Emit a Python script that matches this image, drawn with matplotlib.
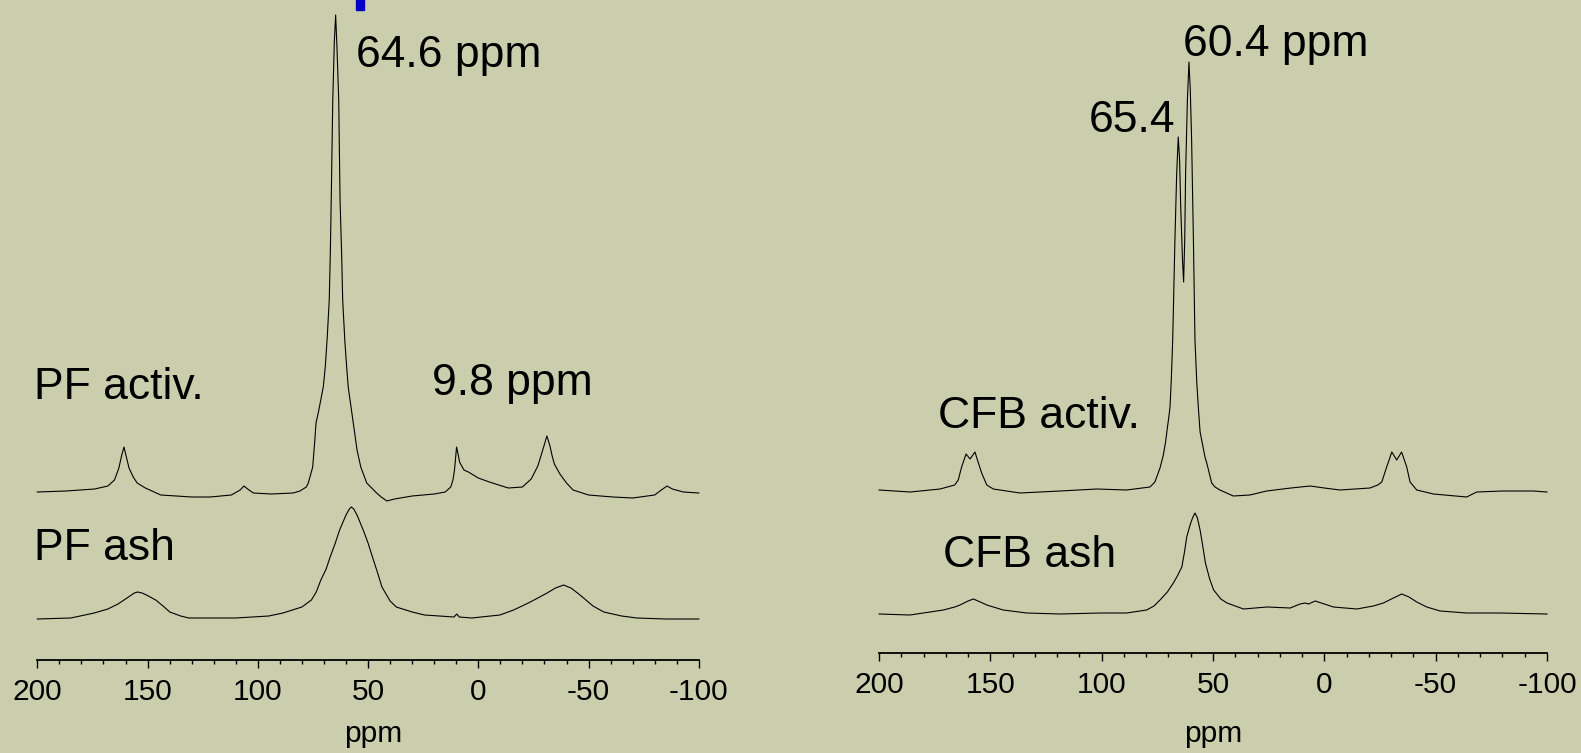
import matplotlib.pyplot as plt
from matplotlib.patches import Rectangle
from matplotlib.ticker import MultipleLocator

plt.rcParams['font.family'] = ['Liberation Sans', 'DejaVu Sans']
plt.rcParams['axes.unicode_minus'] = False

# spectra: chemical shift (ppm) and intensity above each trace's baseline (px)
pf_act_ppm = [200, 187, 174, 168, 165, 163, 161.8, 160.7, 159.5, 158.4, 156.5, 154.7, 151, 149, 144, 130,
              121.6, 112, 108, 106.3, 104, 102, 94, 84, 80.9, 78, 77.1, 75.1, 74.2, 73.6, 72.5, 70.3,
              69.4, 68.5, 67.6, 67.1, 66.7, 66.0, 65.3, 64.7, 64.1, 63.3, 62.7, 62.0, 61.5, 60.5, 59.7,
              59.0, 56.7, 55.0, 53.3, 50.6, 46.1, 44, 41.5, 38, 30, 20, 15, 12.5, 11.5, 10.8, 9.85, 9.0,
              8.5, 6.5, 4.5, 0, -5, -13.6, -20, -24, -27, -29.5, -31.1, -32.5, -33.5, -34.5, -37, -40,
              -43, -50, -61, -70, -80, -83, -85.6, -88, -93, -100]
pf_act_int = [0, 1, 3, 6, 12, 24, 36, 45, 34, 24, 15, 9, 4, 2, -3, -5,
              -5, -3, 2, 6, 2, -1, -2, -1, 1, 5, 9, 25, 50, 69, 80, 105,
              125, 155, 192, 240, 292, 392, 450, 477, 445, 392, 292, 240, 192, 150, 125,
              105, 69, 42, 25, 9, -1, -5, -9, -7, -4, -2, 0, 5, 12, 22, 45, 36,
              30, 22, 20, 14, 10, 4, 5, 13, 26, 44, 56, 46, 36, 28, 18, 9,
              2, -3, -5, -6, -3, 2, 6, 3, 0, -1]

pf_ash_ppm = [200, 184.8, 174.2, 168, 163.4, 160, 158, 156, 154.5, 152.5, 150.5, 146.3, 143, 139.9, 135,
              131.3, 110, 95, 88.6, 80, 75.7, 73.5, 71.4, 69, 67.2, 65, 62.9, 60, 58.5, 57.6, 56.5, 55,
              52.2, 50, 48, 45.5, 43.7, 40, 37.2, 30, 24.4, 11, 9.8, 8.6, 3, -9.8, -16, -22.7, -27,
              -31.2, -35, -38.7, -42, -45, -48.3, -52, -56.9, -65, -71.9, -85, -100]
pf_ash_int = [0, 1, 6, 10, 15, 20, 23, 26, 27, 26, 24, 19, 13, 7, 3,
              1, 1, 3, 6, 12, 19, 27, 39, 50, 62, 75, 89, 104, 110, 112, 110, 104,
              89, 76, 62, 45, 32, 18, 12, 7, 4, 2, 5, 2, 1, 4, 9, 16, 21,
              26, 31, 34, 31, 26, 20, 13, 7, 3, 1, 0, 0]

cfb_act_ppm = [200, 186, 172.6, 166, 164.4, 162.9, 160.9, 159.1, 156.9, 155.5, 153.9, 151.6, 148.7,
               136.7, 118.7, 102.2, 88.8, 78.3, 76.1, 73.8, 72.3, 71.3, 70.5, 69.9, 69.3, 68.7, 68.1,
               67.6, 67.1, 66.3, 65.6, 65.0, 64.5, 63.7, 63.2, 62.7, 62.3, 61.5, 60.8, 60.2, 59.6, 59.2,
               58.8, 58.1, 57.3, 56.6, 55.8, 53.6, 52.8, 50.6, 49.1, 46.9, 40.9, 33.4, 25.9, 15, 6.4,
               0, -7, -20.5, -24, -25.8, -28, -30.3, -32.5, -34.7, -37, -38.5, -41.5, -49, -63.9,
               -68.4, -80, -93.8, -100]
cfb_act_int = [0, -2, 1, 5, 10, 23, 36, 31, 38, 28, 17, 5, 1,
               -3, -1, 1, 0, 3, 8, 22, 35, 48, 62, 72, 83, 112, 150,
               200, 250, 317, 353, 330, 283, 230, 208, 250, 317, 390, 428, 400, 350, 300,
               250, 150, 108, 83, 58, 33, 27, 7, 3, 0, -6, -5, -1, 2, 4,
               2, 0, 2, 5, 8, 23, 38, 30, 38, 23, 8, 0, -4, -7,
               -2, -1, -1, -2]

cfb_ash_ppm = [200, 186.1, 171.1, 166, 163.6, 160, 157.6, 154.5, 151.6, 144.2, 133.7, 118.7, 100.7,
               88.8, 79.8, 76.5, 73.8, 70.5, 67.8, 66, 64.0, 62.8, 61.8, 60.3, 59.2, 58.1, 57.0, 55.8,
               54.6, 53.4, 51.5, 49.7, 46.5, 43.7, 36.3, 25.8, 15.3, 10.9, 8.6, 7.1, 4.1, -4.1, -14.6,
               -22, -26.5, -31, -34.8, -38, -41.5, -46, -52.0, -63.9, -78.9, -100]
cfb_ash_int = [0, -1, 4, 7, 9, 13, 15, 12, 9, 4, 1, 0, 1,
               1, 4, 8, 14, 22, 31, 38, 47, 62, 77, 89, 96, 101, 96, 84,
               68, 51, 35, 24, 15, 11, 5, 7, 6, 10, 11, 10, 13, 7, 5,
               8, 11, 16, 20, 17, 12, 7, 3, 1, 1, 0]

tick_vals = [200, 150, 100, 50, 0, -50, -100]
tick_text = ['200', '150', '100', '50', '0', '-50', '-100']

bg = '#cbcead'
W, H = 1581, 753

fig = plt.figure(figsize=(W / 100, H / 100), dpi=100, facecolor=bg)


def panel(x0, x1, y_axis):
    ax = fig.add_axes([x0 / W, (H - y_axis) / H, (x1 - x0) / W, y_axis / H])
    ax.set_facecolor('none')
    ax.set_xlim(200, -100)
    ax.set_ylim(0, y_axis)
    for s in ['left', 'right', 'top']:
        ax.spines[s].set_visible(False)
    ax.spines['bottom'].set_linewidth(1.3)
    ax.set_yticks([])
    ax.set_xticks(tick_vals)
    ax.set_xticklabels(tick_text)
    ax.xaxis.set_minor_locator(MultipleLocator(10))
    ax.tick_params(axis='x', which='major', length=6, width=1.0, pad=7, labelsize=21.5)
    ax.tick_params(axis='x', which='minor', length=3, width=1.0)
    ax.set_xlabel('ppm', fontsize=21.5)
    ax.xaxis.label.set_verticalalignment('baseline')
    return ax


# left panel (PF)
ax1 = panel(37.3, 698.8, 660)
ax1.plot(pf_act_ppm, [v + 168 for v in pf_act_int], color='black', lw=0.8, clip_on=False)
ax1.plot(pf_ash_ppm, [v + 41 for v in pf_ash_int], color='black', lw=0.8, clip_on=False)
ax1.xaxis.set_label_coords((373 - 37.3) / 661.5, -(742 - 660) / 660)
ax1.text(55.5, 593, '64.6 ppm', fontsize=32, va='baseline', ha='left')
ax1.text(21.1, 265, '9.8 ppm', fontsize=32, va='baseline', ha='left')
ax1.text(201.5, 260.7, 'PF activ.', fontsize=32, va='baseline', ha='left')
ax1.text(201.5, 100, 'PF ash', fontsize=32, va='baseline', ha='left')

# right panel (CFB)
ax2 = panel(879, 1547, 652.5)
ax2.plot(cfb_act_ppm, [v + 162.5 for v in cfb_act_int], color='black', lw=0.8, clip_on=False)
ax2.plot(cfb_ash_ppm, [v + 38.5 for v in cfb_ash_int], color='black', lw=0.8, clip_on=False)
ax2.xaxis.set_label_coords(0.5, -(742 - 652.5) / 652.5)
ax2.text(63.5, 596.5, '60.4 ppm', fontsize=32, va='baseline', ha='left')
ax2.text(67.1, 520.8, '65.4', fontsize=32, va='baseline', ha='right')
ax2.text(173.5, 224.2, 'CFB activ.', fontsize=32, va='baseline', ha='left')
ax2.text(171.3, 85.8, 'CFB ash', fontsize=32, va='baseline', ha='left')

# small blue marker at the top edge
fig.patches.append(Rectangle((356 / W, 1 - 10 / H), 8 / W, 10 / H,
                             transform=fig.transFigure, color='#0000c8'))

fig.savefig('out.png', dpi=100, facecolor=bg)
